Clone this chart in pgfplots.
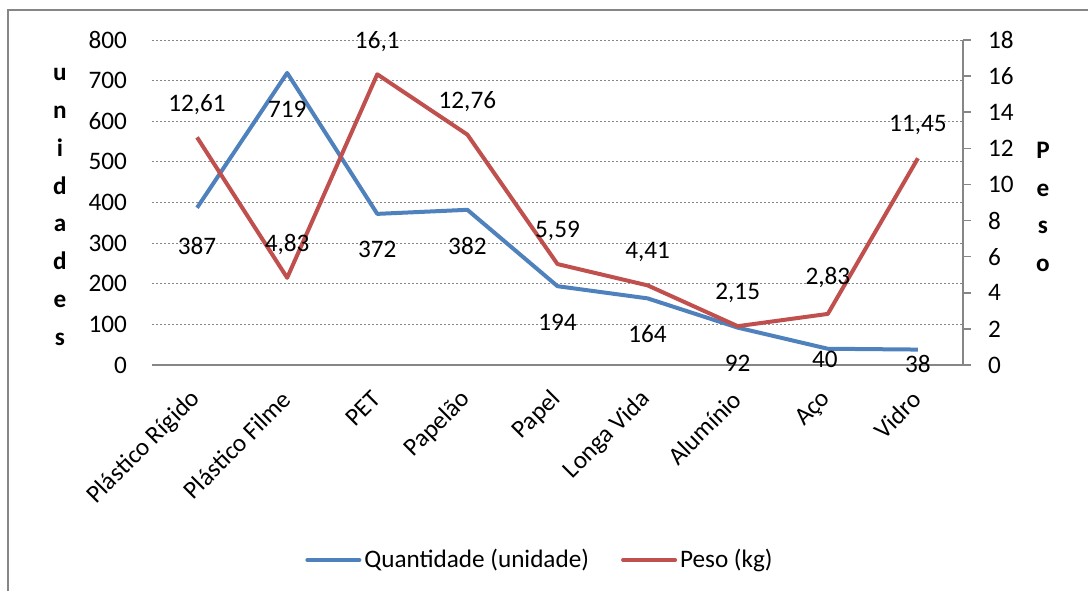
\documentclass[border=0pt]{standalone}
\usepackage{fontspec}
\setmainfont{Carlito}
\usepackage{pgfplots}
\usepackage{pgfplotstable}
\pgfplotsset{compat=1.18}

\definecolor{azul}{HTML}{4F81BD}
\definecolor{verm}{HTML}{C0504D}
\definecolor{eixo}{HTML}{868686}

\pgfplotstableread{
x qtd peso lp
0 387 12.61 12,61
1 719 4.83 4,83
2 372 16.1 16,1
3 382 12.76 12,76
4 194 5.59 5,59
5 164 4.41 4,41
6 92 2.15 2,15
7 40 2.83 2,83
8 38 11.45 11,45
}\dados

\newcommand\fs{\fontsize{12.6}{15}\selectfont}

\begin{document}
\begin{tikzpicture}[x=0.5pt,y=0.5pt,font=\fs]
\path[use as bounding box] (0,0) rectangle (1088,591);
\draw[eixo, line width=0.6pt] (8,0) -- (8,581) -- (1088,581);

\pgfplotsset{base/.style={
  at={(76pt,113pt)}, anchor=south west,
  scale only axis, width=405.5pt, height=162.5pt,
  xmin=-0.5, xmax=8.5, ymin=0, clip=false,
  every tick label/.append style={font=\fs},
  /pgf/number format/assume math mode=true,
}}

\begin{axis}[base,
  ymax=800, ytick distance=100,
  axis x line*=bottom, axis y line*=left,
  y axis line style={draw=none},
  x axis line style={eixo, line width=0.75pt},
  ytick style={draw=none}, xtick style={draw=none},
  ymajorgrids,
  major grid style={eixo, line width=0.5pt, dash pattern=on 1pt off 1pt},
  xtick={0,...,8},
  xticklabels={Plástico Rígido, Plástico Filme, PET, Papelão, Papel, Longa Vida, Alumínio, Aço, Vidro},
  % shifts act in the rotated frame of the label
  xticklabel style={font=\fs, rotate=45, anchor=east, xshift=-7.5pt, yshift=-10.5pt},
  yticklabel style={font=\fs, xshift=-9pt},
]
\addplot[azul, line width=2pt, line join=round,
  nodes near coords, point meta=explicit symbolic,
  every node near coord/.append style={anchor=center, font=\fs, text=black, yshift=-18pt},
  coordinate style/.condition={\coordindex==0}{yshift=-1pt},
  coordinate style/.condition={\coordindex==7}{yshift=12.5pt, xshift=-1.5pt},
  coordinate style/.condition={\coordindex==8}{yshift=11pt}]
  table[x=x, y=qtd, meta=qtd] {\dados};
\end{axis}

\begin{axis}[base,
  ymax=18, ytick distance=2,
  axis x line=none, axis y line*=right,
  y axis line style={eixo, line width=0.75pt},
  ytick style={eixo, line width=0.75pt},
  tick align=outside, major tick length=4pt,
  yticklabel style={font=\fs, xshift=5pt},
  legend style={at={(0.479,-0.6)}, anchor=center, draw=none, fill=none,
    font=\fs, legend columns=2, inner xsep=0pt,
    nodes={inner xsep=1.5pt},
    /tikz/every even column/.append style={column sep=14.5pt}},
  legend cell align=left,
  legend image code/.code={\draw[#1, line cap=round] (0pt,0pt) -- (26pt,0pt);},
]
\addlegendimage{azul, line width=2pt}
\addlegendentry{Quantidade (unidade)}
\addplot[verm, line width=2pt, line join=round,
  nodes near coords, point meta=explicit symbolic,
  every node near coord/.append style={anchor=center, font=\fs, text=black, yshift=16.5pt},
  coordinate style/.condition={\coordindex==7}{yshift=1.5pt}]
  table[x=x, y=peso, meta=lp] {\dados};
\addlegendentry{Peso (kg)}
\end{axis}

\node[font=\bfseries\fontsize{12.6}{18.9}\selectfont, align=center] at (60,384) {u\\n\\i\\d\\a\\d\\e\\s};
\node[font=\bfseries\fontsize{12.6}{18.9}\selectfont, align=center] at (1043,384) {P\\e\\s\\o};
\end{tikzpicture}
\end{document}
